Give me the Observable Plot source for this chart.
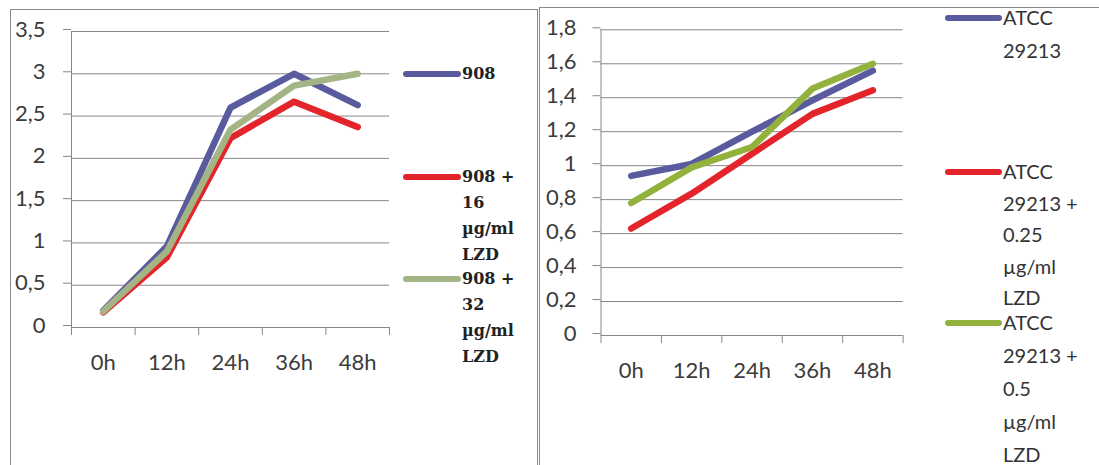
<!DOCTYPE html>
<html>
<head>
<meta charset="utf-8">
<script src="https://cdn.jsdelivr.net/npm/d3@7"></script>
<script src="https://cdn.jsdelivr.net/npm/@observablehq/plot@0.6"></script>
<style>
  html, body { margin: 0; padding: 0; background: #fff; }
  body { width: 1099px; height: 465px; position: relative; overflow: hidden; }
  .panel { position: absolute; border: 1px solid #8a8a8a; box-sizing: border-box; }
  .chart { position: absolute; }
  .legend { position: absolute; }
  .item { position: absolute; }
  .swatch { position: absolute; height: 6px; border-radius: 3px; }
  .ltext { position: absolute; white-space: nowrap; }
</style>
</head>
<body>
<div class="panel" style="left:10px; top:9px; width:528px; height:480px;"></div>
<div class="panel" style="left:539px; top:7px; width:600px; height:480px;"></div>
<div id="left" class="chart" style="left:0px; top:0px;"></div>
<div id="right" class="chart" style="left:530px; top:0px;"></div>
<div id="legendLeft" class="legend" style="left:0; top:0;"></div>
<div id="legendRight" class="legend" style="left:0; top:0;"></div>
<script>
// ---- data ----
const categories = ["0h", "12h", "24h", "36h", "48h"];

const leftLegend = [["908"], ["908 +", "16", "µg/ml", "LZD"], ["908 +", "32", "µg/ml", "LZD"]];
const leftColors = ["#5a5a9e", "#e3242b", "#a4b585"];
const left908 = [0.20, 0.96, 2.60, 3.00, 2.63];
const left908lzd16 = [0.18, 0.83, 2.24, 2.67, 2.37];
const left908lzd32 = [0.19, 0.90, 2.34, 2.86, 3.00];
const leftYTicks = [0, 0.5, 1, 1.5, 2, 2.5, 3, 3.5];

const rightLegend = [["ATCC", "29213"], ["ATCC", "29213 +", "0.25", "µg/ml", "LZD"], ["ATCC", "29213 +", "0.5", "µg/ml", "LZD"]];
const rightColors = ["#5a5a9e", "#e3242b", "#93b13d"];
const rightATCC = [0.94, 1.01, 1.20, 1.385, 1.56];
const rightATCClzd025 = [0.63, 0.835, 1.07, 1.305, 1.444];
const rightATCClzd05 = [0.78, 0.99, 1.11, 1.454, 1.60];
const rightYTicks = [0, 0.2, 0.4, 0.6, 0.8, 1, 1.2, 1.4, 1.6, 1.8];

// ---- helpers ----
function toRows(names, seriesList) {
  const rows = [];
  names.forEach((name, k) => {
    seriesList[k].forEach((v, i) => rows.push({s: name, i, v}));
  });
  return rows;
}
const comma = d => String(d).replace(".", ",");
const grid = "#878787";

function chart({names, colors, series, yTicks, yMax, width, height, mL, mR, mT, mB, yPad}) {
  const rows = toRows(names, series);
  const idx = d3.range(categories.length);
  const bounds = d3.range(categories.length + 1).map(i => i - 0.5);
  return Plot.plot({
    width, height,
    marginLeft: mL, marginRight: mR, marginTop: mT, marginBottom: mB,
    x: {type: "linear", domain: [-0.5, categories.length - 0.5]},
    y: {domain: [0, yMax]},
    color: {domain: names, range: colors},
    style: {fontFamily: "Lato, sans-serif", fontSize: "22px", color: "#3c3c3c", background: "transparent", overflow: "visible"},
    marks: [
      Plot.ruleY(yTicks, {stroke: grid, strokeWidth: 1}),
      Plot.ruleX([-0.5], {stroke: grid, strokeWidth: 1}),
      Plot.axisY(yTicks, {tickSize: 8, tickPadding: yPad, stroke: grid, strokeOpacity: 1, fill: "#3c3c3c", tickFormat: comma, label: null, dy: -2}),
      Plot.axisX(bounds, {tickSize: 8, stroke: grid, strokeOpacity: 1, tickFormat: () => "", label: null}),
      Plot.axisX(idx, {tickSize: 0, tickPadding: 27, fill: "#3c3c3c", tickFormat: i => categories[i], label: null}),
      Plot.line(rows, {x: "i", y: "v", z: "s", stroke: "s", strokeWidth: 6.5, strokeLinecap: "round", strokeLinejoin: "round"})
    ]
  });
}

function legend(el, lines, colors, opt) {
  lines.forEach((ls, k) => {
    const lh = opt.lhs[k];
    const item = document.createElement("div");
    item.className = "item";
    item.style.left = opt.x + "px";
    item.style.top = opt.tops[k] + "px";
    const sw = document.createElement("div");
    sw.className = "swatch";
    sw.style.left = "0px";
    sw.style.width = opt.swW + "px";
    sw.style.top = (lh / 2 - 3) + "px";
    sw.style.background = colors[k];
    item.appendChild(sw);
    const t = document.createElement("div");
    t.className = "ltext";
    t.style.left = opt.swW + 1 + "px";
    t.style.top = "0px";
    t.style.font = opt.font;
    t.style.lineHeight = lh + "px";
    t.style.color = opt.color;
    t.innerHTML = ls.join("<br>");
    item.appendChild(t);
    el.appendChild(item);
  });
}

const leftNames = leftLegend.map(l => l.join(" "));
const rightNames = rightLegend.map(l => l.join(" "));

document.getElementById("left").appendChild(chart({
  names: leftNames, colors: leftColors,
  series: [left908, left908lzd16, left908lzd32],
  yTicks: leftYTicks, yMax: 3.5,
  width: 400, height: 372, mL: 71, mR: 11, mT: 31, mB: 45, yPad: 18
}));

document.getElementById("right").appendChild(chart({
  names: rightNames, colors: rightColors,
  series: [rightATCC, rightATCClzd025, rightATCClzd05],
  yTicks: rightYTicks, yMax: 1.8,
  width: 380, height: 380, mL: 70.5, mR: 7.4, mT: 29.3, mB: 45, yPad: 16.5
}));

legend(document.getElementById("legendLeft"), leftLegend, leftColors, {
  x: 403, tops: [61, 164, 266], lhs: [26, 26, 26], swW: 58,
  font: "bold 16px 'DejaVu Serif', serif", color: "#222"
});
legend(document.getElementById("legendRight"), rightLegend, rightColors, {
  x: 945, tops: [1, 156, 306], lhs: [33, 31.5, 33], swW: 57,
  font: "20px Lato, sans-serif", color: "#333"
});
</script>
</body>
</html>
